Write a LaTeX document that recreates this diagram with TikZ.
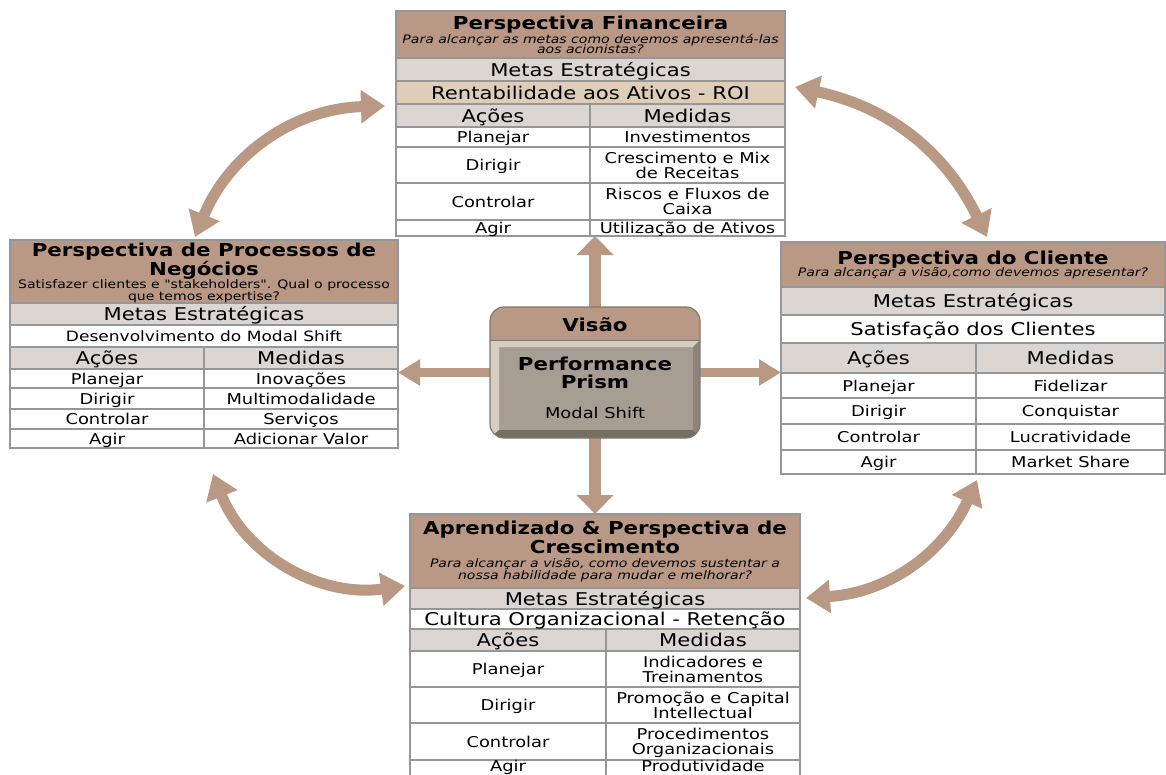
\documentclass[tikz,border=0pt]{standalone}
\usepackage{fontspec}
\setmainfont[FakeStretch=1.2, Ligatures=TeXOff]{DejaVu Sans}
\usetikzlibrary{arrows.meta}
\definecolor{hdr}{RGB}{185,153,133}
\definecolor{rowgray}{RGB}{220,214,211}
\definecolor{beige}{RGB}{222,206,184}
\definecolor{bord}{RGB}{150,150,150}
\definecolor{arr}{RGB}{185,152,132}
\definecolor{face}{RGB}{166,158,146}
\definecolor{bevlight}{RGB}{214,206,194}
\definecolor{bevdark}{RGB}{118,110,98}
\definecolor{bevmid}{RGB}{140,132,120}
\definecolor{boxline}{RGB}{128,122,112}
\newcommand\mytrow[6]{\path[tb,fill=#6] (#1,#4) rectangle (#3,#5); \draw[tb] (#2,#4) -- (#2,#5);}
\newcommand\myfrow[5]{\path[tb,fill=#5] (#1,#3) rectangle (#2,#4);}
\begin{document}
\begin{tikzpicture}[x=1pt,y=-1pt,
  tb/.style={draw=bord, line width=1.1pt},
  frame/.style={inner sep=0, outer sep=0, anchor=north west},
  ttl/.style={font=\fontsize{17.8}{19}\selectfont\bfseries, inner sep=0, text height=13pt, text depth=0pt},
  sub/.style={font=\fontsize{11.7}{12}\selectfont, inner sep=0, text height=8.5pt, text depth=0pt},
  subi/.style={font=\fontsize{11.7}{12}\selectfont\itshape, inner sep=0, text height=8.5pt, text depth=0pt},
  big/.style={font=\fontsize{17.6}{19}\selectfont, inner sep=0, text height=13pt, text depth=0pt},
  cellt/.style={font=\fontsize{14.9}{15}\selectfont, inner sep=0, text height=11pt, text depth=0pt},
  cellt2/.style={font=\fontsize{14.9}{15}\selectfont, inner sep=0, align=center, text depth=0pt},
  sarrH/.style={draw=arr, line width=9pt, -{Triangle[width=25pt,length=22pt]}},
  sarrV/.style={draw=arr, line width=12pt, -{Triangle[width=36pt,length=19pt]}},
  carr/.style={draw=arr, line width=11pt, {Triangle[width=32pt,length=24pt]}-{Triangle[width=32pt,length=24pt]}},
]
\useasboundingbox (0,0) rectangle (1166,774);
\fill[white] (0,0) rectangle (1166,774);

% ---------- frames (named nodes) ----------
\node[frame, minimum width=389pt, minimum height=225pt] (fin) at (396,11) {};
\node[frame, minimum width=388pt, minimum height=208pt] (proc) at (10,240) {};
\node[frame, minimum width=384pt, minimum height=232pt] (cli) at (781,242) {};
\node[frame, minimum width=390pt, minimum height=266pt] (apr) at (410,514) {};
\node[frame, minimum width=210pt, minimum height=131pt] (vis) at (490,307) {};

% ---------- straight arrows ----------
\draw[sarrV] (vis.north) -- (vis.north |- fin.south);
\draw[sarrV] (vis.south) -- (vis.south |- apr.north);
\draw[sarrH] (vis.west) -- (vis.west -| proc.east);
\draw[sarrH] (vis.east) -- (vis.east -| cli.west);

% ---------- curved arrows ----------
\coordinate (c1a) at (195,237); \coordinate (c1b) at (385,106);
\coordinate (c2a) at (795,87);  \coordinate (c2b) at (987,237);
\coordinate (c3a) at (213,474); \coordinate (c3b) at (405,586);
\coordinate (c4a) at (977,480); \coordinate (c4b) at (806,598);
\draw[carr] (c1a) to[bend left=33] (c1b);
\draw[carr] (c2a) to[bend left=26] (c2b);
\draw[carr] (c3a) to[bend right=38] (c3b);
\draw[carr] (c4a) to[bend left=31] (c4b);

% ---------- Perspectiva Financeira ----------
\myfrow{396}{785}{11}{58}{hdr}
\myfrow{396}{785}{58}{81}{rowgray}
\myfrow{396}{785}{81}{104}{beige}
\mytrow{396}{590}{785}{104}{127}{rowgray}
\mytrow{396}{590}{785}{127}{147}{white}
\mytrow{396}{590}{785}{147}{183}{white}
\mytrow{396}{590}{785}{183}{220}{white}
\mytrow{396}{590}{785}{220}{236}{white}
\node[ttl] (fT) at (590.5,23) {Perspectiva Financeira};
\node[subi] (fS1) at (590.5,39) {Para alcançar as metas como devemos apresentá-las};
\node[subi] (fS2) at (590.5,49.5) {aos acionistas?};
\node[big] (fM) at (590.5,70) {Metas Estratégicas};
\node[big] (fG) at (590.5,93) {Rentabilidade aos Ativos - ROI};
\node[big] (fA) at (493,116) {Ações};
\node[big] (fB) at (687.5,116) {Medidas};
\node[cellt] (f1a) at (493,137) {Planejar};
\node[cellt] (f1b) at (687.5,137) {Investimentos};
\node[cellt] (f2a) at (493,165) {Dirigir};
\node[cellt2] (f2b) at (687.5,165) {Crescimento e Mix\\de Receitas};
\node[cellt] (f3a) at (493,201.5) {Controlar};
\node[cellt2] (f3b) at (687.5,201.5) {Riscos e Fluxos de\\Caixa};
\node[cellt] (f4a) at (493,228) {Agir};
\node[cellt] (f4b) at (687.5,228) {Utilização de Ativos};

% ---------- Perspectiva de Processos ----------
\myfrow{10}{398}{240}{303}{hdr}
\myfrow{10}{398}{303}{325}{rowgray}
\myfrow{10}{398}{325}{347}{white}
\mytrow{10}{204}{398}{347}{369}{rowgray}
\mytrow{10}{204}{398}{369}{388}{white}
\mytrow{10}{204}{398}{388}{409}{white}
\mytrow{10}{204}{398}{409}{429}{white}
\mytrow{10}{204}{398}{429}{448}{white}
\node[ttl] (pT1) at (204,250) {Perspectiva de Processos de};
\node[ttl] (pT2) at (204,268.5) {Negócios};
\node[sub] (pS1) at (204,284) {Satisfazer clientes e "stakeholders". Qual o processo};
\node[sub] (pS2) at (204,296) {que temos expertise?};
\node[big] (pM) at (204,314) {Metas Estratégicas};
\node[cellt, font=\fontsize{14.2}{15}\selectfont] (pG) at (204,336) {Desenvolvimento do Modal Shift};
\node[big] (pA) at (107,358) {Ações};
\node[big] (pB) at (301,358) {Medidas};
\node[cellt] (p1a) at (107,378.5) {Planejar};
\node[cellt] (p1b) at (301,378.5) {Inovações};
\node[cellt] (p2a) at (107,398.5) {Dirigir};
\node[cellt] (p2b) at (301,398.5) {Multimodalidade};
\node[cellt] (p3a) at (107,419) {Controlar};
\node[cellt] (p3b) at (301,419) {Serviços};
\node[cellt] (p4a) at (107,438.5) {Agir};
\node[cellt] (p4b) at (301,438.5) {Adicionar Valor};

% ---------- Perspectiva do Cliente ----------
\myfrow{781}{1165}{242}{287}{hdr}
\myfrow{781}{1165}{287}{315}{rowgray}
\myfrow{781}{1165}{315}{343}{white}
\mytrow{781}{976}{1165}{343}{373}{rowgray}
\mytrow{781}{976}{1165}{373}{398}{white}
\mytrow{781}{976}{1165}{398}{424}{white}
\mytrow{781}{976}{1165}{424}{450}{white}
\mytrow{781}{976}{1165}{450}{474}{white}
\node[ttl] (cT) at (973,258) {Perspectiva do Cliente};
\node[subi] (cS) at (973,272.5) {Para alcançar a visão,como devemos apresentar?};
\node[big] (cM) at (973,301) {Metas Estratégicas};
\node[big] (cG) at (973,329) {Satisfação dos Clientes};
\node[big] (cA) at (878.5,358) {Ações};
\node[big] (cB) at (1070.5,358) {Medidas};
\node[cellt] (c1a) at (878.5,385.5) {Planejar};
\node[cellt] (c1b) at (1070.5,385.5) {Fidelizar};
\node[cellt] (c2a) at (878.5,411) {Dirigir};
\node[cellt] (c2b) at (1070.5,411) {Conquistar};
\node[cellt] (c3a) at (878.5,437) {Controlar};
\node[cellt] (c3b) at (1070.5,437) {Lucratividade};
\node[cellt] (c4a) at (878.5,462) {Agir};
\node[cellt] (c4b) at (1070.5,462) {Market Share};

% ---------- Aprendizado & Crescimento ----------
\myfrow{410}{800}{514}{588}{hdr}
\myfrow{410}{800}{588}{609}{rowgray}
\myfrow{410}{800}{609}{629}{white}
\mytrow{410}{606}{800}{629}{651}{rowgray}
\mytrow{410}{606}{800}{651}{687}{white}
\mytrow{410}{606}{800}{687}{723}{white}
\mytrow{410}{606}{800}{723}{760}{white}
\mytrow{410}{606}{800}{760}{790}{white}
\node[ttl] (aT1) at (605,528) {Aprendizado \& Perspectiva de};
\node[ttl] (aT2) at (605,547) {Crescimento};
\node[subi] (aS1) at (605,563) {Para alcançar a visão, como devemos sustentar a};
\node[subi] (aS2) at (605,575) {nossa habilidade para mudar e melhorar?};
\node[big] (aM) at (605,598.5) {Metas Estratégicas};
\node[big] (aG) at (605,619) {Cultura Organizacional - Retenção};
\node[big] (aA) at (508,640) {Ações};
\node[big] (aB) at (703,640) {Medidas};
\node[cellt] (a1a) at (508,669) {Planejar};
\node[cellt2] (a1b) at (703,669) {Indicadores e\\Treinamentos};
\node[cellt] (a2a) at (508,705) {Dirigir};
\node[cellt2] (a2b) at (703,705) {Promoção e Capital\\Intellectual};
\node[cellt] (a3a) at (508,741.5) {Controlar};
\node[cellt2] (a3b) at (703,741.5) {Procedimentos\\Organizacionais};
\node[cellt] (a4a) at (508,766) {Agir};
\node[cellt] (a4b) at (703,766) {Produtividade};

% ---------- Visão box ----------
\begin{scope}
  \clip[rounded corners=14pt] (490,307) rectangle (700,438);
  \fill[face] (490,307) rectangle (700,438);
  \fill[hdr] (490,307) rectangle (700,340);
  \fill[bevlight] (490,340) -- (700,340) -- (693,347) -- (499,347) -- cycle;
  \fill[bevlight] (490,340) -- (499,347) -- (499,430) -- (490,438) -- cycle;
  \fill[bevdark] (490,438) -- (499,430) -- (693,430) -- (700,438) -- cycle;
  \fill[bevmid] (700,340) -- (693,347) -- (693,430) -- (700,438) -- cycle;
  \draw[boxline, line width=1pt] (490,340) -- (700,340);
\end{scope}
\draw[boxline, line width=1.2pt, rounded corners=14pt] (490,307) rectangle (700,438);
\node[ttl] (vT) at (595,325) {Visão};
\node[ttl] (vP1) at (595,364) {Performance};
\node[ttl] (vP2) at (595,382) {Prism};
\node[cellt] (vM) at (595,413) {Modal Shift};
\end{tikzpicture}
\end{document}
